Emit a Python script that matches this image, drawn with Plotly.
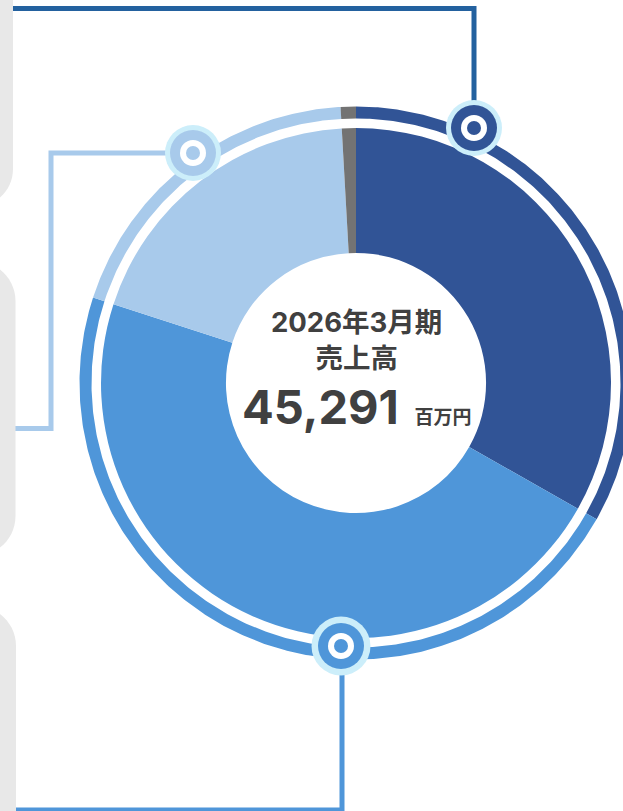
import plotly.graph_objects as go
import numpy as np

# ---- data ----
segments = ["セグメントA", "セグメントB", "セグメントC", "その他"]
sales = [15037, 21197, 8654, 403]          # 百万円, sum = 45,291
colors = ["#315496", "#4F96D9", "#A8CAEB", "#737373"]
title_lines = ["2026年3月期", "売上高"]
total_label = "45,291"
unit_label = "百万円"

# ---- geometry (pixels) ----
W, H = 623, 811
CX, CY = 356, 383
R_PIE = 255
HOLE = 0.51
R_RING_IN, R_RING_OUT = 264.5, 276.5

fig = go.Figure()

# outer ring, same shares as the pie
total = float(sum(sales))
cum = np.concatenate([[0.0], np.cumsum(sales)]) / total * 360.0
for i, (name, v, c) in enumerate(zip(segments, sales, colors)):
    a0, a1 = cum[i], cum[i + 1]
    n = max(int((a1 - a0) * 2), 6)
    t = np.radians(np.linspace(a0, a1, n))
    xo = CX + R_RING_OUT * np.sin(t)
    yo = CY - R_RING_OUT * np.cos(t)
    xi = CX + R_RING_IN * np.sin(t[::-1])
    yi = CY - R_RING_IN * np.cos(t[::-1])
    fig.add_trace(go.Scatter(
        x=np.concatenate([xo, xi]), y=np.concatenate([yo, yi]),
        fill="toself", fillcolor=c, mode="lines", line=dict(width=0, color=c),
        hoverinfo="skip", showlegend=False))

# inner donut
fig.add_trace(go.Pie(
    labels=segments, values=sales, sort=False, direction="clockwise", rotation=0,
    hole=HOLE, marker=dict(colors=colors, line=dict(width=0)),
    textinfo="none", hoverinfo="label+value", showlegend=False,
    domain=dict(x=[(CX - R_PIE) / W, (CX + R_PIE) / W],
                y=[(H - CY - R_PIE) / H, (H - CY + R_PIE) / H])))

shapes = []

def line_path(pts, color, width):
    d = "M " + " L ".join(f"{x},{y}" for x, y in pts)
    shapes.append(dict(type="path", path=d, xref="x", yref="y",
                       line=dict(color=color, width=width), layer="above"))

# connector lines
line_path([(474, 128), (474, 8.5), (5, 8.5)], "#23619F", 5)
line_path([(193, 153), (51, 153), (51, 428.5), (5, 428.5)], "#A8CAEB", 5)
line_path([(342, 646), (342, 810), (5, 810)], "#4F96D9", 5)

# side cards (rounded rectangles, mostly off-page)
K = 0.5523
def card(right, top, bottom, r, round_top=True, round_bottom=True):
    left = -100
    d = f"M {left},{top}"
    if round_top:
        d += f" L {right - r},{top} C {right - r + K*r},{top} {right},{top + r - K*r} {right},{top + r}"
    else:
        d += f" L {right},{top}"
    if round_bottom:
        d += f" L {right},{bottom - r} C {right},{bottom - r + K*r} {right - r + K*r},{bottom} {right - r},{bottom}"
    else:
        d += f" L {right},{bottom}"
    d += f" L {left},{bottom} Z"
    shapes.append(dict(type="path", path=d, xref="x", yref="y",
                       fillcolor="#E8E8E8", line=dict(width=0), layer="above"))

card(13, -100, 207, 38, round_top=False)
card(15.5, 261, 556, 40)
card(16, 606, 950, 40, round_bottom=False)

# markers
def marker(x, y, color, halo=28):
    for r, c in [(halo, "#CCEEFA"), (23, color), (13, "#FFFFFF"), (7, color)]:
        shapes.append(dict(type="circle", xref="x", yref="y",
                           x0=x - r, x1=x + r, y0=y - r, y1=y + r,
                           fillcolor=c, line=dict(width=0), layer="above"))

marker(474, 128, colors[0])
marker(193, 153, colors[2])
marker(341, 646, colors[1], halo=29.5)

txt_font = "Inter, Noto Sans CJK JP, sans-serif"
annotations = [
    dict(x=CX, y=340, xref="x", yref="y",
         text=f"<b>{title_lines[0]}<br>{title_lines[1]}</b>", showarrow=False,
         font=dict(family=txt_font, size=27.5, color="#404040")),
    dict(x=CX, y=406, xref="x", yref="y",
         text=f"<b>{total_label} <span style='font-size:19px'>&nbsp;{unit_label}</span></b>",
         showarrow=False, font=dict(family=txt_font, size=47, color="#404040")),
]

fig.update_layout(
    width=W, height=H, margin=dict(l=0, r=0, t=0, b=0),
    paper_bgcolor="white", plot_bgcolor="white",
    xaxis=dict(range=[0, W], visible=False, fixedrange=True),
    yaxis=dict(range=[H, 0], visible=False, fixedrange=True),
    shapes=shapes, annotations=annotations, showlegend=False,
)

fig.write_html("out.html", config={"displayModeBar": False},
               post_script="document.body.style.margin='0';document.body.style.overflow='hidden';")
